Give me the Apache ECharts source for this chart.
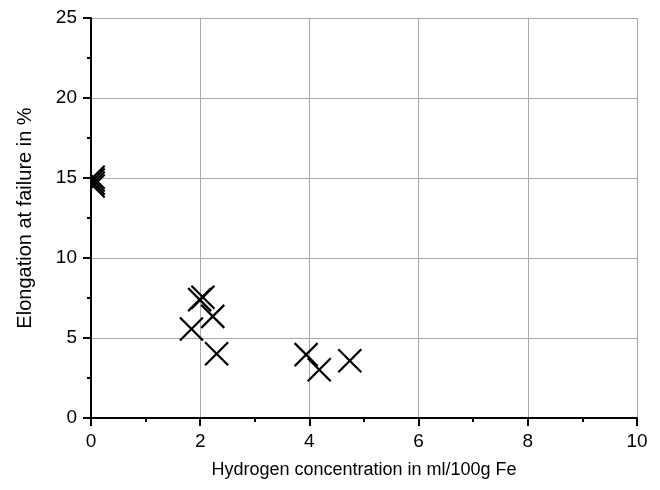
<!DOCTYPE html>
<html>
<head>
<meta charset="utf-8">
<script src="https://cdn.jsdelivr.net/npm/echarts@6/dist/echarts.min.js"></script>
<style>
html,body{margin:0;padding:0;background:#fff;}
#c{width:660px;height:490px;}
</style>
</head>
<body>
<div id="c"></div>
<script>
const hydrogen = [0.04, 0.04, 0.04, 0.04, 1.84, 1.99, 2.05, 2.23, 2.30, 3.94, 4.18, 4.74];
const elongation = [15.05, 14.87, 14.68, 14.5, 5.56, 7.4, 7.55, 6.35, 4.02, 3.96, 3.02, 3.58];
const xTitle = 'Hydrogen concentration in ml/100g Fe';
const yTitle = 'Elongation at failure in %';

const points = hydrogen.map((x, i) => [x, elongation[i]]);
const font = 'Liberation Sans, Arial, sans-serif';

const chart = echarts.init(document.getElementById('c'), null, {renderer: 'canvas'});
chart.setOption({
  animation: false,
  backgroundColor: '#fff',
  grid: {left: 91, right: 23, top: 18, bottom: 72, containLabel: false},
  xAxis: {
    type: 'value', min: 0, max: 10, interval: 2,
    name: xTitle, nameLocation: 'middle', nameGap: 43,
    nameTextStyle: {fontFamily: font, fontSize: 18, color: '#000'},
    axisLine: {show: true, onZero: false, lineStyle: {color: '#000', width: 2}},
    axisTick: {show: true, inside: false, length: 8, lineStyle: {color: '#000', width: 2}},
    minorTick: {show: true, splitNumber: 2, length: 4, lineStyle: {color: '#000', width: 2}},
    axisLabel: {fontFamily: font, fontSize: 19, color: '#000', margin: 14},
    splitLine: {show: true, lineStyle: {color: '#a8a8a8', width: 1}},
    minorSplitLine: {show: false}
  },
  yAxis: {
    type: 'value', min: 0, max: 25, interval: 5,
    name: yTitle, nameLocation: 'middle', nameGap: 56,
    nameTextStyle: {fontFamily: font, fontSize: 20, color: '#000'},
    axisLine: {show: true, onZero: false, lineStyle: {color: '#000', width: 2}},
    axisTick: {show: true, inside: false, length: 8, lineStyle: {color: '#000', width: 2}},
    minorTick: {show: true, splitNumber: 2, length: 4, lineStyle: {color: '#000', width: 2}},
    axisLabel: {fontFamily: font, fontSize: 19, color: '#000', margin: 14},
    splitLine: {show: true, lineStyle: {color: '#a8a8a8', width: 1}},
    minorSplitLine: {show: false}
  },
  series: [{
    type: 'custom',
    clip: true,
    data: points,
    renderItem: function (params, api) {
      const p = api.coord([api.value(0), api.value(1)]);
      const h = 11.5;
      const st = {stroke: '#000', lineWidth: 2.2};
      return {
        type: 'group',
        children: [
          {type: 'line', shape: {x1: p[0] - h, y1: p[1] - h, x2: p[0] + h, y2: p[1] + h}, style: st},
          {type: 'line', shape: {x1: p[0] - h, y1: p[1] + h, x2: p[0] + h, y2: p[1] - h}, style: st}
        ]
      };
    }
  }]
});
</script>
</body>
</html>
